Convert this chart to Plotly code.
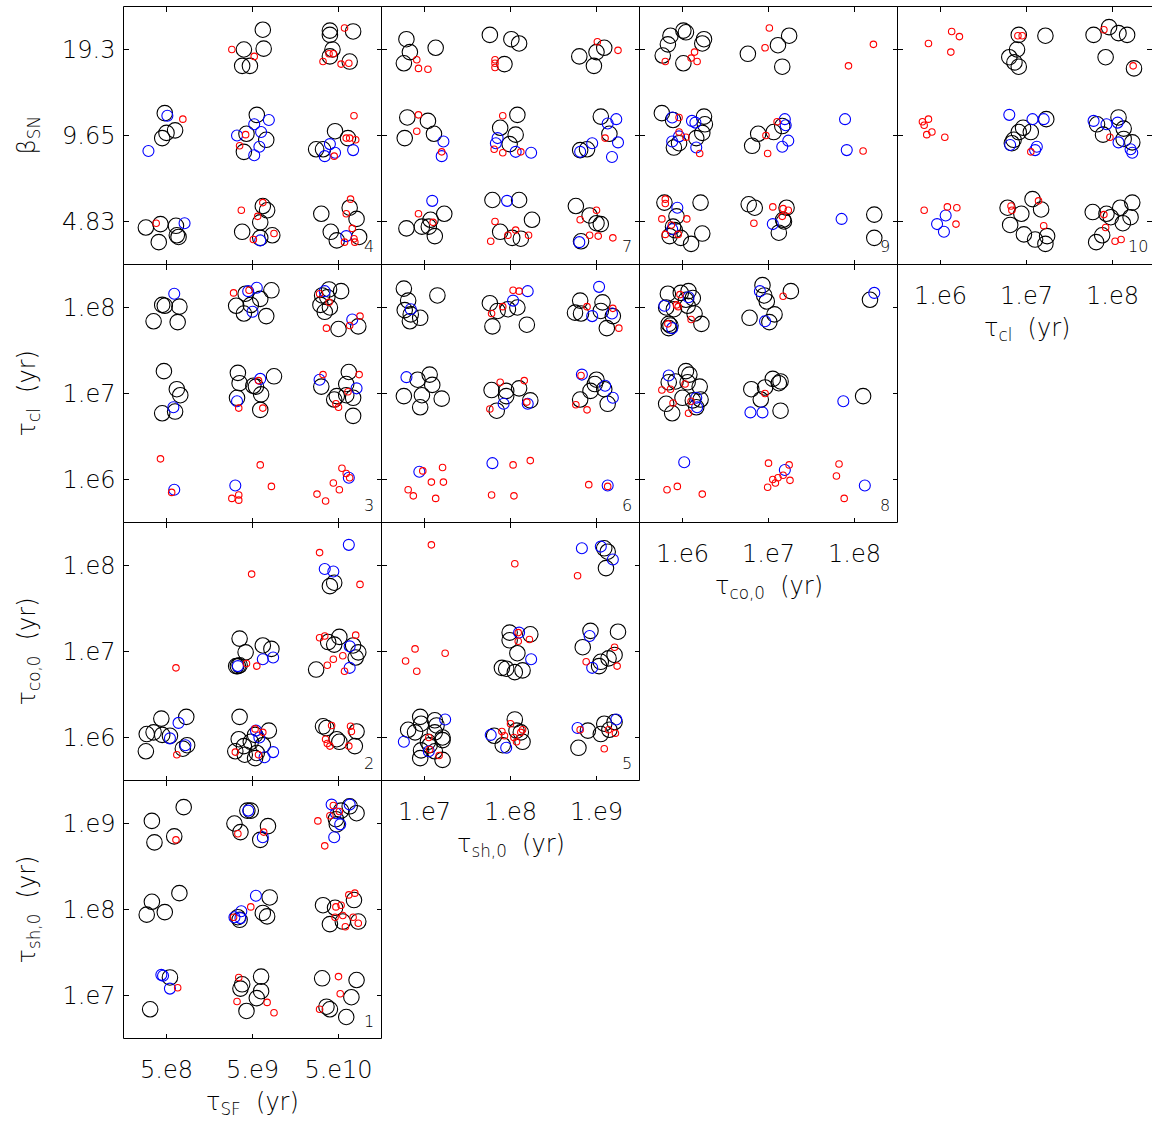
import plotly.graph_objects as go

# ---------------------------------------------------------------------------
# Tick labels of the sampled parameter values (three grid values each)
# ---------------------------------------------------------------------------
TAU_SF_TICKS = ["5.e8", "5.e9", "5.e10"]
TAU_SH0_TICKS = ["1.e7", "1.e8", "1.e9"]
TAU_CO0_TICKS = ["1.e6", "1.e7", "1.e8"]
TAU_CL_TICKS = ["1.e6", "1.e7", "1.e8"]
BETA_SN_TICKS = ["4.83", "9.65", "19.3"]

# Positions are in grid-step units: 0, 1, 2 are the three sampled values,
# the fractional part is the jitter applied to separate overlapping models.
# Panel 1: tau_sh,0 (y) vs tau_SF (x)
P1_BLACK = [(0.20, 2.19), (-0.17, 2.03), (0.09, 1.85), (-0.14, 1.78), (0.94, 2.15), (0.98, 2.15),
            (0.79, 2.00), (1.18, 1.97), (0.86, 1.90), (1.09, 1.81), (2.03, 2.15), (2.13, 2.20),
            (2.21, 2.12), (1.97, 2.05), (1.98, 1.99), (0.15, 1.19), (-0.17, 1.09), (-0.23, 0.94),
            (-0.02, 0.97), (1.20, 1.14), (1.12, 0.96), (1.17, 0.92), (0.85, 0.88), (0.83, 0.91),
            (1.82, 1.05), (1.96, 1.02), (2.18, 1.11), (2.05, 0.86), (1.90, 0.83), (2.23, 0.86),
            (0.04, 0.21), (-0.19, -0.16), (1.10, 0.22), (0.88, 0.13), (0.86, 0.08), (1.10, 0.05),
            (1.05, -0.03), (0.93, -0.18), (1.81, 0.20), (2.21, 0.18), (2.15, -0.02), (1.86, -0.13),
            (1.90, -0.16), (2.09, -0.25)]
P1_BLUE = [(0.95, 2.15), (1.12, 1.84), (1.92, 2.22), (2.13, 2.22), (1.97, 2.12), (2.02, 1.99),
           (1.95, 1.84), (1.04, 1.16), (0.87, 0.98), (0.79, 0.91), (0.86, 0.90), (-0.06, 0.24),
           (-0.04, 0.23), (0.04, 0.08)]
P1_RED = [(0.11, 1.81), (0.83, 1.88), (1.13, 1.90), (1.94, 2.21), (1.90, 2.09), (2.01, 2.14),
          (1.76, 2.03), (1.84, 1.74), (0.98, 1.03), (0.78, 0.91), (2.12, 1.17), (2.19, 1.19),
          (1.97, 1.03), (2.03, 1.05), (2.05, 0.93), (1.96, 0.91), (2.17, 0.91), (2.08, 0.80),
          (2.23, 0.84), (0.13, 0.09), (0.84, 0.21), (0.82, -0.07), (1.17, -0.08), (1.25, -0.20),
          (2.00, 0.22), (2.02, 0.02), (1.78, -0.16)]

# Panel 2: tau_co,0 (y) vs tau_SF (x)
P2_BLACK = [(1.95, 1.80), (1.90, 1.76), (0.85, 1.15), (1.12, 1.07), (1.22, 1.03), (0.92, 0.99),
            (0.81, 0.83), (0.83, 0.83), (0.85, 0.84), (2.01, 1.17), (1.88, 1.11), (1.95, 1.08),
            (2.17, 1.07), (2.23, 0.99), (2.20, 0.93), (1.74, 0.79), (-0.06, 0.22), (0.23, 0.24),
            (-0.23, 0.04), (-0.15, 0.06), (-0.05, 0.03), (0.04, 0.02), (-0.24, -0.16), (0.19, -0.13),
            (0.24, -0.09), (0.85, 0.24), (1.19, 0.08), (0.84, -0.02), (1.03, 0.03), (0.98, -0.05),
            (0.90, -0.10), (0.80, -0.16), (0.91, -0.20), (1.03, -0.24), (1.12, -0.09), (1.05, -0.18),
            (1.82, 0.13), (1.86, 0.11), (2.21, 0.07), (1.98, -0.02), (2.01, -0.05), (2.19, -0.10)]
P2_BLUE = [(2.12, 2.24), (1.84, 1.96), (1.94, 1.93), (1.12, 0.91), (1.24, 0.93), (0.83, 0.83),
           (2.13, 1.06), (2.13, 0.81), (0.14, 0.17), (0.04, -0.01), (0.22, -0.09), (1.04, 0.08),
           (1.08, 0.00), (1.24, -0.17), (1.14, -0.23)]
P2_RED = [(1.78, 2.15), (2.25, 1.78), (0.99, 1.90), (0.11, 0.81), (0.93, 0.86), (1.05, 0.83),
          (1.78, 1.16), (1.84, 1.18), (2.20, 1.19), (1.94, 0.91), (2.05, 0.95), (1.87, 0.84),
          (2.07, 0.77), (0.12, -0.20), (1.03, 0.10), (1.12, 0.06), (0.80, -0.17), (1.07, -0.20),
          (1.92, 0.14), (2.14, 0.13), (2.15, 0.07), (1.85, -0.02), (1.87, -0.07), (1.90, -0.10),
          (2.12, -0.10)]

# Panel 3: tau_cl (y) vs tau_SF (x)
P3_BLACK = [(-0.05, 2.03), (-0.02, 2.02), (0.15, 2.01), (-0.15, 1.84), (0.13, 1.83), (1.22, 2.20),
            (0.92, 2.16), (1.09, 2.10), (0.81, 2.02), (0.98, 2.03), (0.90, 1.93), (1.16, 1.90),
            (1.89, 2.21), (2.03, 2.19), (1.81, 2.14), (1.87, 2.12), (1.79, 2.03), (1.90, 2.00),
            (1.84, 1.95), (2.00, 1.75), (2.23, 1.78), (-0.03, 1.26), (0.12, 1.05), (0.16, 0.98),
            (-0.05, 0.77), (0.10, 0.79), (0.83, 1.24), (1.25, 1.20), (0.85, 1.12), (1.01, 1.09),
            (1.04, 1.08), (1.10, 0.99), (0.82, 0.95), (1.09, 0.81), (2.12, 1.25), (1.80, 1.08),
            (2.09, 1.11), (1.98, 0.97), (2.09, 0.98), (2.17, 0.95), (1.95, 0.93), (2.17, 0.74)]
P3_BLUE = [(0.09, 2.16), (1.05, 2.23), (0.95, 2.19), (1.00, 1.95), (1.84, 2.19), (2.16, 1.86),
           (0.08, 0.84), (1.09, 1.17), (0.82, 0.91), (1.78, 1.16), (2.21, 1.06), (0.09, -0.12),
           (0.80, -0.07), (2.12, 0.02)]
P3_RED = [(0.78, 2.17), (0.96, 2.20), (1.78, 2.16), (1.89, 2.06), (2.25, 1.90), (2.13, 1.79),
          (1.86, 1.76), (1.07, 1.15), (0.84, 0.83), (1.12, 0.83), (1.82, 1.22), (2.24, 1.22),
          (2.11, 1.02), (1.97, 0.88), (2.00, 0.84), (-0.07, 0.24), (0.06, -0.15), (1.09, 0.17),
          (1.22, -0.08), (0.84, -0.18), (0.76, -0.22), (0.84, -0.24), (2.04, 0.13), (2.09, 0.07),
          (2.13, 0.02), (1.94, -0.04), (2.01, -0.12), (1.75, -0.17), (1.85, -0.25)]

# Panel 4: beta_SN (y) vs tau_SF (x)
P4_BLACK = [(1.12, 2.23), (0.90, 2.00), (1.13, 2.01), (0.88, 1.81), (0.97, 1.81), (1.90, 2.22),
            (1.90, 2.17), (2.17, 2.21), (1.93, 2.00), (1.90, 1.92), (2.13, 1.86), (-0.02, 1.26),
            (0.00, 1.03), (-0.05, 0.97), (0.10, 1.06), (1.05, 1.24), (0.93, 1.02), (1.16, 0.95),
            (0.90, 0.81), (1.96, 1.05), (1.74, 0.84), (1.82, 0.84), (2.11, 0.97), (-0.24, -0.07),
            (-0.07, -0.03), (0.11, -0.05), (0.12, -0.16), (0.14, -0.18), (-0.09, -0.24), (1.12, 0.18),
            (1.17, 0.13), (1.09, -0.01), (0.88, -0.12), (1.23, -0.16), (1.09, -0.19), (1.80, 0.09),
            (2.13, 0.16), (2.21, 0.03), (1.91, -0.12), (1.98, -0.22), (2.24, -0.18)]
P4_BLUE = [(0.01, 1.23), (-0.21, 0.82), (1.02, 1.13), (1.19, 1.18), (0.82, 1.00), (1.10, 1.04),
           (1.08, 0.87), (1.02, 0.77), (1.90, 0.90), (1.84, 0.76), (1.96, 0.80), (2.17, 0.83),
           (0.21, -0.02), (2.09, -0.17), (1.09, -0.22)]
P4_RED = [(0.76, 2.00), (1.02, 1.92), (2.07, 2.25), (1.89, 1.95), (1.94, 1.95), (1.82, 1.86),
          (2.03, 1.83), (2.12, 1.84), (0.19, 1.19), (0.92, 1.01), (0.85, 0.88), (2.18, 1.23),
          (2.09, 0.97), (2.13, 0.97), (2.20, 0.95), (1.95, 0.76), (-0.12, -0.02), (0.87, 0.13),
          (1.06, 0.06), (1.12, 0.22), (1.25, -0.14), (1.01, -0.21), (2.14, 0.26), (2.09, 0.09),
          (2.16, -0.08), (2.18, -0.20), (2.07, -0.24), (2.19, -0.24)]

# Panel 5: tau_co,0 (y) vs tau_sh,0 (x)
P5_BLACK = [(2.09, 2.20), (2.13, 2.16), (2.11, 1.97), (0.99, 1.22), (1.23, 1.20), (0.99, 1.13),
            (1.08, 0.98), (0.90, 0.81), (0.95, 0.80), (1.05, 0.76), (1.14, 0.78), (1.93, 1.24),
            (2.25, 1.23), (1.84, 1.05), (2.21, 0.96), (2.14, 0.92), (2.05, 0.88), (2.03, 0.83),
            (-0.05, 0.24), (0.12, 0.20), (-0.04, 0.16), (0.14, 0.14), (-0.19, 0.09), (-0.11, 0.06),
            (0.12, 0.06), (0.21, 0.00), (0.21, -0.03), (0.04, -0.05), (0.06, -0.09), (-0.04, -0.15),
            (0.12, -0.16), (0.21, -0.26), (-0.05, -0.24), (1.05, 0.21), (0.81, 0.02), (1.12, 0.06),
            (1.07, 0.08), (0.91, -0.09), (1.14, -0.05), (1.90, 0.08), (2.09, 0.16), (2.21, 0.18),
            (1.79, -0.12), (2.05, 0.04), (2.15, 0.09)]
P5_BLUE = [(1.83, 2.20), (2.05, 2.22), (2.19, 2.07), (1.10, 1.22), (1.24, 0.91), (1.92, 1.18),
           (1.95, 0.81), (0.24, 0.21), (-0.24, -0.05), (0.05, -0.16), (0.77, 0.03), (0.95, -0.12),
           (1.78, 0.11), (2.23, 0.21)]
P5_RED = [(0.08, 2.24), (1.05, 2.02), (1.78, 1.88), (-0.11, 1.03), (0.24, 0.98), (-0.22, 0.89),
          (-0.09, 0.77), (1.09, 1.22), (1.09, 1.12), (1.22, 1.14), (2.21, 1.05), (1.88, 0.88),
          (2.24, 0.83), (0.05, 0.00), (0.06, -0.14), (0.17, -0.21), (1.00, 0.16), (0.90, 0.07),
          (0.93, 0.02), (1.14, 0.09), (1.12, 0.06), (1.04, 0.00), (1.07, -0.05), (1.81, 0.09),
          (2.14, 0.09), (2.22, 0.05), (2.09, -0.13)]

# Panel 6: tau_cl (y) vs tau_sh,0 (x)
P6_BLACK = [(-0.24, 2.22), (0.15, 2.14), (-0.19, 2.08), (-0.23, 1.97), (-0.16, 1.92), (-0.05, 1.88),
            (-0.17, 1.84), (0.76, 2.05), (0.85, 1.96), (0.97, 1.98), (1.08, 2.00), (0.79, 1.78),
            (1.19, 1.80), (1.81, 2.08), (2.07, 2.06), (1.75, 1.94), (1.82, 1.93), (2.05, 1.96),
            (2.19, 1.90), (2.12, 1.76), (0.06, 1.22), (-0.08, 1.16), (0.09, 1.10), (-0.24, 0.97),
            (-0.03, 0.98), (0.20, 0.94), (-0.05, 0.84), (0.78, 1.04), (0.95, 1.03), (1.10, 1.06),
            (0.95, 0.97), (1.23, 0.92), (0.84, 0.80), (2.00, 1.16), (1.98, 1.11), (1.93, 1.03),
            (1.81, 0.93), (2.09, 1.05), (2.13, 0.88)]
P6_BLUE = [(-0.16, 1.98), (1.20, 2.19), (1.03, 2.08), (2.03, 2.24), (1.95, 1.90), (2.18, 1.93),
           (-0.21, 1.19), (0.92, 0.88), (1.20, 0.88), (1.83, 1.22), (2.10, 1.09), (2.19, 0.95),
           (-0.06, 0.09), (0.79, 0.19), (2.13, -0.07)]
P6_RED = [(1.03, 2.20), (1.10, 2.19), (0.91, 2.01), (0.78, 1.93), (1.89, 2.01), (2.19, 1.99),
          (2.26, 1.76), (0.88, 1.13), (1.16, 1.15), (1.19, 0.90), (0.76, 0.82), (1.82, 1.21),
          (1.76, 0.87), (1.89, 0.81), (-0.02, 0.10), (0.21, 0.14), (0.22, -0.03), (0.08, -0.03),
          (-0.19, -0.12), (-0.13, -0.19), (0.13, -0.22), (1.03, 0.17), (1.23, 0.22), (0.78, -0.18),
          (1.04, -0.19), (1.91, -0.06), (2.13, -0.08)]

# Panel 7: beta_SN (y) vs tau_sh,0 (x)
P7_BLACK = [(-0.21, 2.12), (-0.17, 1.97), (-0.24, 1.84), (0.13, 2.02), (0.76, 2.17), (1.01, 2.12),
            (1.10, 2.07), (0.93, 1.83), (1.80, 1.92), (2.00, 1.97), (2.09, 2.02), (1.97, 1.81),
            (-0.20, 1.21), (0.04, 1.17), (0.11, 1.02), (-0.23, 0.97), (1.08, 1.24), (0.88, 1.09),
            (1.06, 1.01), (0.99, 0.90), (2.05, 1.22), (2.15, 1.02), (1.89, 0.84), (1.81, 0.83),
            (-0.21, -0.08), (-0.03, -0.06), (0.07, 0.02), (0.23, 0.09), (0.05, -0.06), (0.12, -0.17),
            (0.79, 0.25), (1.10, 0.25), (1.25, 0.02), (0.88, -0.12), (1.02, -0.19), (1.12, -0.20),
            (1.76, 0.18), (1.92, 0.07), (2.00, -0.02), (2.05, -0.03), (1.82, -0.23)]
P7_BLUE = [(0.22, 0.93), (0.20, 0.76), (0.85, 0.97), (0.83, 0.91), (1.06, 0.81), (1.24, 0.80),
           (2.23, 1.19), (2.13, 1.14), (1.95, 0.91), (2.25, 0.92), (2.18, 0.75), (1.81, 0.81),
           (0.09, 0.24), (0.96, 0.24), (1.80, -0.24)]
P7_RED = [(-0.09, 1.88), (-0.07, 1.78), (0.04, 1.77), (0.82, 1.88), (0.82, 1.84), (0.82, 1.79),
          (2.01, 2.09), (2.25, 1.99), (-0.07, 1.24), (-0.09, 1.05), (0.20, 0.81), (0.91, 1.23),
          (0.81, 0.84), (0.91, 0.80), (1.12, 0.81), (2.10, 0.97), (-0.07, 0.09), (0.10, -0.01),
          (0.82, 0.00), (1.06, -0.10), (0.97, -0.16), (1.21, -0.16), (0.77, -0.23), (2.00, 0.13),
          (1.81, 0.02), (1.92, -0.16), (2.02, -0.17), (2.19, -0.19)]

# Panel 8: tau_cl (y) vs tau_co,0 (x)
P8_BLACK = [(-0.17, 2.16), (-0.02, 2.17), (0.07, 2.19), (0.12, 2.11), (0.04, 2.09), (-0.19, 2.00),
            (-0.10, 1.98), (0.06, 2.02), (0.14, 1.93), (0.22, 1.81), (-0.16, 1.81), (-0.14, 1.79),
            (-0.16, 1.76), (0.93, 2.26), (0.95, 2.14), (1.26, 2.19), (0.98, 2.07), (1.07, 1.92),
            (0.78, 1.88), (1.01, 1.83), (2.18, 2.09), (0.04, 1.26), (0.08, 1.22), (-0.16, 1.13),
            (-0.08, 1.14), (0.06, 1.13), (0.20, 1.08), (-0.19, 0.88), (0.00, 0.95), (0.12, 0.92),
            (0.21, 0.93), (-0.12, 0.77), (0.16, 0.84), (0.80, 1.05), (0.96, 1.07), (1.05, 1.17),
            (1.14, 1.14), (1.12, 1.12), (0.91, 0.93), (1.14, 0.80), (2.10, 0.97)]
P8_BLUE = [(0.07, 2.12), (-0.21, 2.02), (-0.12, 1.76), (0.90, 2.19), (0.96, 1.84), (2.23, 2.17),
           (-0.16, 1.21), (0.16, 0.95), (0.17, 0.84), (0.79, 0.78), (0.93, 0.78), (1.87, 0.91),
           (0.02, 0.20), (1.19, 0.11), (2.12, -0.07)]
P8_RED = [(-0.03, 2.15), (-0.07, 2.03), (-0.05, 2.01), (0.10, 1.86), (-0.17, 1.81), (1.17, 2.13),
          (-0.24, 1.04), (-0.14, 1.05), (0.03, 1.11), (-0.11, 0.89), (0.10, 0.91), (0.07, 0.77),
          (0.96, 1.00), (-0.18, -0.12), (-0.06, -0.08), (0.23, -0.17), (1.00, 0.19), (1.24, 0.17),
          (1.05, 0.00), (1.11, 0.02), (1.17, 0.05), (1.08, -0.04), (1.25, -0.01), (0.99, -0.09),
          (1.82, 0.18), (1.79, 0.04), (1.88, -0.22)]

# Panel 9: beta_SN (y) vs tau_co,0 (x)
P9_BLACK = [(-0.14, 2.16), (0.01, 2.22), (0.04, 2.20), (-0.17, 2.06), (-0.23, 1.93), (0.25, 2.12),
            (0.23, 2.07), (0.01, 1.84), (1.24, 2.16), (1.11, 2.05), (0.76, 1.95), (1.16, 1.80),
            (-0.24, 1.26), (-0.11, 1.18), (0.25, 1.22), (0.26, 1.13), (0.23, 1.03), (0.16, 0.97),
            (-0.04, 0.91), (-0.10, 0.86), (0.88, 1.02), (0.81, 0.88), (1.06, 1.04), (1.16, 1.11),
            (-0.21, 0.22), (0.21, 0.22), (-0.07, 0.06), (-0.11, -0.06), (-0.09, -0.10), (-0.15, -0.17),
            (-0.02, -0.19), (0.10, -0.26), (0.23, -0.14), (0.77, 0.20), (0.84, 0.16), (1.21, 0.16),
            (1.17, 0.02), (1.18, 0.00), (1.12, -0.13), (2.23, 0.08), (2.23, -0.19)]
P9_BLUE = [(-0.12, 1.21), (0.11, 1.17), (0.15, 1.15), (-0.04, 0.99), (-0.12, 0.93), (0.16, 0.86),
           (1.19, 1.19), (1.20, 1.12), (1.23, 0.94), (1.16, 0.87), (1.89, 1.19), (1.91, 0.83),
           (-0.06, 0.16), (-0.12, -0.09), (1.05, -0.03), (1.85, 0.03)]
P9_RED = [(0.14, 1.97), (0.10, 1.90), (0.17, 1.86), (-0.20, 1.86), (1.01, 2.25), (0.96, 2.02),
          (2.22, 2.06), (1.93, 1.81), (-0.04, 1.21), (-0.04, 1.04), (0.04, 0.98), (0.20, 0.79),
          (1.10, 1.16), (0.97, 1.00), (0.99, 0.79), (2.10, 0.82), (-0.20, 0.26), (-0.20, 0.21),
          (-0.24, 0.03), (0.05, 0.03), (-0.13, -0.04), (-0.20, -0.15), (-0.05, -0.15), (1.05, 0.17),
          (1.17, 0.15), (1.23, 0.13), (1.16, 0.06), (0.83, -0.02)]

# Panel 10: beta_SN (y) vs tau_cl (x)
P10_BLACK = [(0.91, 2.17), (1.22, 2.16), (0.89, 2.00), (0.80, 1.91), (0.86, 1.85), (0.91, 1.80),
             (1.78, 2.17), (1.96, 2.26), (2.07, 2.19), (2.17, 2.17), (1.92, 1.91), (2.25, 1.78),
             (1.23, 1.19), (0.96, 1.09), (0.91, 1.04), (1.05, 1.04), (0.85, 0.95), (0.83, 0.91),
             (2.07, 1.21), (1.82, 1.13), (1.89, 1.01), (2.13, 1.08), (2.13, 0.96), (2.23, 0.92),
             (0.78, 0.16), (1.07, 0.26), (1.17, 0.14), (0.94, 0.09), (0.81, -0.04), (0.97, -0.15),
             (1.10, -0.21), (1.24, -0.17), (1.22, -0.26), (1.77, 0.11), (1.93, 0.09), (1.98, 0.05),
             (2.09, 0.16), (2.23, 0.22), (2.21, 0.05), (2.12, -0.02), (1.88, -0.16), (1.81, -0.24)]
P10_BLUE = [(0.80, 1.24), (1.07, 1.19), (1.20, 1.19), (0.81, 0.89), (1.12, 0.87), (1.10, 0.83),
            (1.78, 1.17), (1.93, 1.13), (2.06, 1.15), (2.07, 0.92), (2.21, 0.84), (2.23, 0.80),
            (0.06, 0.07), (-0.04, -0.03), (0.04, -0.12)]
P10_RED = [(0.13, 2.21), (0.22, 2.15), (-0.14, 2.07), (0.12, 1.97), (0.90, 2.16), (0.95, 2.16),
           (1.90, 2.23), (2.24, 1.81), (-0.21, 1.16), (-0.14, 1.19), (-0.19, 1.12), (-0.10, 1.04),
           (-0.16, 1.01), (0.05, 0.98), (1.05, 0.81), (1.97, 0.98), (-0.19, 0.13), (0.08, 0.17),
           (0.19, 0.16), (0.18, -0.03), (0.82, 0.18), (0.83, 0.13), (1.14, 0.24), (1.20, -0.05),
           (1.90, 0.08), (1.92, -0.07), (2.03, -0.23), (2.10, -0.21)]

# ---------------------------------------------------------------------------
# Panel arrangement: (panel number, grid row from top, grid column, data)
# rows: beta_SN, tau_cl, tau_co,0, tau_sh,0 ; columns: tau_SF, tau_sh,0, tau_co,0, tau_cl
# ---------------------------------------------------------------------------
PANELS = [
    (1, 3, 0, P1_BLACK, P1_BLUE, P1_RED),
    (2, 2, 0, P2_BLACK, P2_BLUE, P2_RED),
    (3, 1, 0, P3_BLACK, P3_BLUE, P3_RED),
    (4, 0, 0, P4_BLACK, P4_BLUE, P4_RED),
    (5, 2, 1, P5_BLACK, P5_BLUE, P5_RED),
    (6, 1, 1, P6_BLACK, P6_BLUE, P6_RED),
    (7, 0, 1, P7_BLACK, P7_BLUE, P7_RED),
    (8, 1, 2, P8_BLACK, P8_BLUE, P8_RED),
    (9, 0, 2, P9_BLACK, P9_BLUE, P9_RED),
    (10, 0, 3, P10_BLACK, P10_BLUE, P10_RED),
]

ROW_TICKS = [BETA_SN_TICKS, TAU_CL_TICKS, TAU_CO0_TICKS, TAU_SH0_TICKS]
COL_TICKS = [TAU_SF_TICKS, TAU_SH0_TICKS, TAU_CO0_TICKS, TAU_CL_TICKS]
ROW_TITLES = ["β<sub>SN</sub>", "τ<sub>cl</sub>  (yr)", "τ<sub>co,0</sub>  (yr)", "τ<sub>sh,0</sub>  (yr)"]
COL_TITLES = ["τ<sub>SF</sub>  (yr)", "τ<sub>sh,0</sub>  (yr)", "τ<sub>co,0</sub>  (yr)", "τ<sub>cl</sub>  (yr)"]

# ---------------------------------------------------------------------------
# Geometry (pixels)
# ---------------------------------------------------------------------------
W, H = 1152, 1122
COL_EDGES = [123.5, 381.5, 639.5, 897.5, 1155.5]
ROW_EDGES = [6.5, 264.5, 522.5, 780.5, 1038.5]
STEP = 86.0  # pixels per grid step

FONT = "DejaVu Sans"
TICK_FONT = dict(family=FONT, size=24, color="black", weight=200)
TITLE_FONT = dict(family=FONT, size=24, color="black", weight=200)
NUM_FONT = dict(family=FONT, size=16, color="black", weight=200)

STYLES = [
    dict(color="black", size=15.5, width=1.1),
    dict(color="#0000ff", size=11, width=1.1),
    dict(color="#ff0000", size=6.5, width=1.1),
]

fig = go.Figure()
layout = dict(
    width=W, height=H, margin=dict(l=0, r=0, t=0, b=0),
    paper_bgcolor="white", plot_bgcolor="white", showlegend=False,
    shapes=[], annotations=[],
)


def px(x):
    return x / W


def py(y):
    return 1 - y / H


for k, (num, r, c, black, blue, red) in enumerate(PANELS, start=1):
    sfx = "" if k == 1 else str(k)
    xname, yname = "x" + sfx, "y" + sfx
    x0, x1 = COL_EDGES[c], min(COL_EDGES[c + 1], W)
    y0, y1 = ROW_EDGES[r], ROW_EDGES[r + 1]
    bottom = (r == 3 - c)
    left = (c == 0)

    layout["xaxis" + sfx] = dict(
        domain=[px(x0), px(x1)], range=[-0.5, -0.5 + (x1 - x0) / STEP], anchor=yname,
        tickvals=[0, 1, 2], ticktext=COL_TICKS[c], showticklabels=bottom,
        ticks="inside", ticklen=5, tickwidth=1, tickcolor="black", mirror="ticks",
        showline=False, showgrid=False, zeroline=False, tickfont=TICK_FONT,
        ticklabelstandoff=14,
    )
    layout["yaxis" + sfx] = dict(
        domain=[py(y1), py(y0)], range=[-0.5, 2.5], anchor=xname,
        tickvals=[0, 1, 2], ticktext=ROW_TICKS[r], showticklabels=left,
        ticks="inside", ticklen=5, tickwidth=1, tickcolor="black", mirror="ticks",
        showline=False, showgrid=False, zeroline=False, tickfont=TICK_FONT,
        ticklabelstandoff=7,
    )

    for pts, st in zip((black, blue, red), STYLES):
        fig.add_trace(go.Scatter(
            x=[p[0] for p in pts], y=[p[1] for p in pts], mode="markers",
            xaxis=xname, yaxis=yname, hoverinfo="skip",
            marker=dict(symbol="circle-open", size=st["size"], color=st["color"],
                        line=dict(color=st["color"], width=st["width"])),
        ))

    # panel frame
    layout["shapes"].append(dict(
        type="rect", xref="paper", yref="paper",
        x0=px(COL_EDGES[c]), x1=px(COL_EDGES[c + 1]), y0=py(y1), y1=py(y0),
        line=dict(color="black", width=1), fillcolor="rgba(0,0,0,0)", layer="above",
    ))
    # panel number
    layout["annotations"].append(dict(
        text=str(num), xref="paper", yref="paper", showarrow=False,
        x=px(COL_EDGES[c + 1] - 6), y=py(y1 - 6), xanchor="right", yanchor="bottom",
        font=NUM_FONT,
    ))

    # x-axis title under the bottom panel of each column
    if bottom:
        layout["annotations"].append(dict(
            text=COL_TITLES[c], xref="paper", yref="paper", showarrow=False,
            x=px((COL_EDGES[c] + COL_EDGES[c + 1]) / 2), y=py(y1 + 65),
            xanchor="center", yanchor="middle", font=TITLE_FONT,
        ))
    # y-axis title left of the first column
    if left:
        layout["annotations"].append(dict(
            text=ROW_TITLES[r], xref="paper", yref="paper", showarrow=False,
            x=px(28), y=py((y0 + y1) / 2), textangle=-90,
            xanchor="center", yanchor="middle", font=TITLE_FONT,
        ))

fig.update_layout(**layout)
fig.write_html("out.html")
